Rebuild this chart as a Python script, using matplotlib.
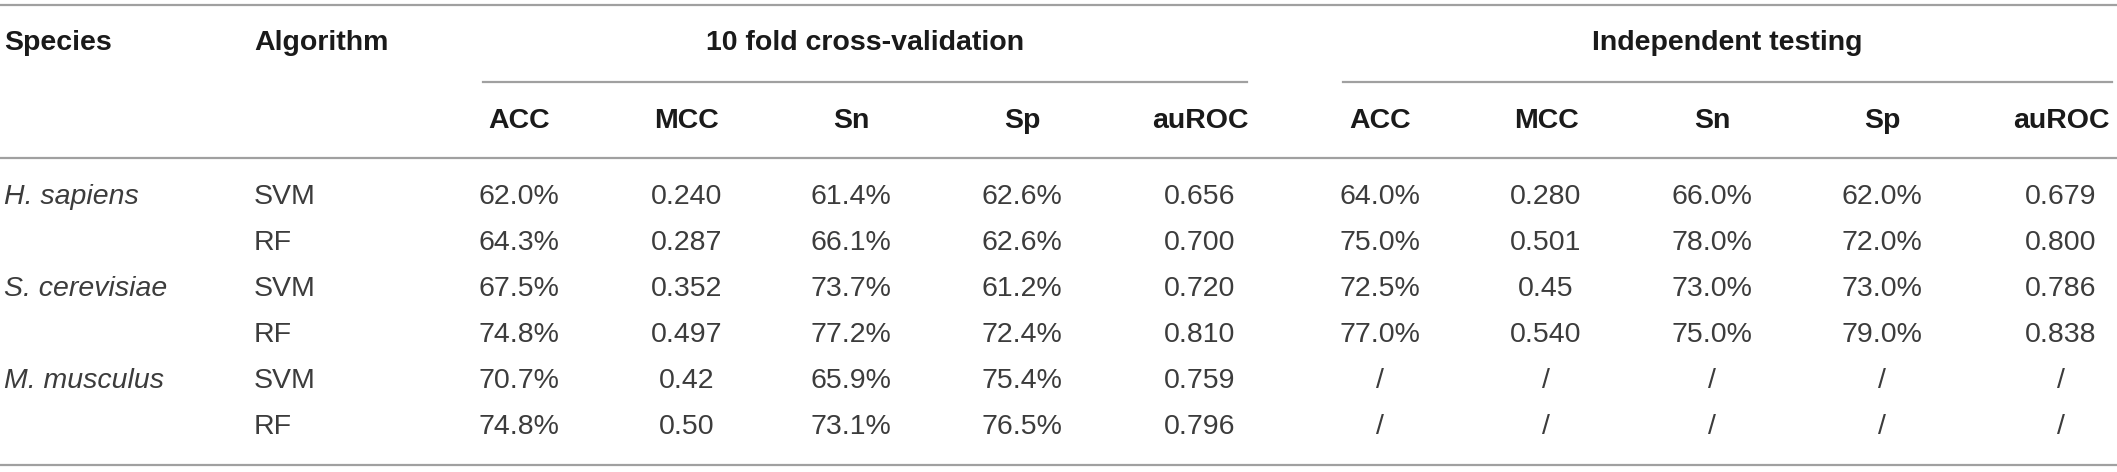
import matplotlib
matplotlib.use("Agg")
import matplotlib.pyplot as plt

# dados da tabela
especies = ["H. sapiens", "", "S. cerevisiae", "", "M. musculus", ""]
algoritmos = ["SVM", "RF", "SVM", "RF", "SVM", "RF"]
metricas = ["ACC", "MCC", "Sn", "Sp", "auROC"]
grupos = ["10 fold cross-validation", "Independent testing"]

cv_acc = ["62.0%", "64.3%", "67.5%", "74.8%", "70.7%", "74.8%"]
cv_mcc = ["0.240", "0.287", "0.352", "0.497", "0.42", "0.50"]
cv_sn = ["61.4%", "66.1%", "73.7%", "77.2%", "65.9%", "73.1%"]
cv_sp = ["62.6%", "62.6%", "61.2%", "72.4%", "75.4%", "76.5%"]
cv_auroc = ["0.656", "0.700", "0.720", "0.810", "0.759", "0.796"]

ind_acc = ["64.0%", "75.0%", "72.5%", "77.0%", "/", "/"]
ind_mcc = ["0.280", "0.501", "0.45", "0.540", "/", "/"]
ind_sn = ["66.0%", "78.0%", "73.0%", "75.0%", "/", "/"]
ind_sp = ["62.0%", "72.0%", "73.0%", "79.0%", "/", "/"]
ind_auroc = ["0.679", "0.800", "0.786", "0.838", "/", "/"]

colunas_cv = [cv_acc, cv_mcc, cv_sn, cv_sp, cv_auroc]
colunas_ind = [ind_acc, ind_mcc, ind_sn, ind_sp, ind_auroc]

W, H = 2117, 472
fig = plt.figure(figsize=(W / 100, H / 100), dpi=100, facecolor="white")
ax = fig.add_axes([0, 0, 1, 1])
ax.set_xlim(0, W)
ax.set_ylim(H, 0)
ax.axis("off")

cor_linha = "#a0a0a0"
cor_texto = "#3c3c3c"
cor_cab = "#1a1a1a"
fs = 20.5
fonte = "Liberation Sans"

# posicoes (pixels)
x_esp, x_alg = 4, 254
x_cv = [519, 687, 851, 1022, 1200]
x_ind = [1380, 1546, 1712, 1882, 2061]
y_grupo, y_metrica = 43, 121
y_linhas = [197 + 46 * i for i in range(len(algoritmos))]

# linhas horizontais
ax.plot([0, W], [5, 5], color=cor_linha, lw=1.6)
ax.plot([483, 1247], [82, 82], color=cor_linha, lw=1.6)
ax.plot([1343, 2112], [82, 82], color=cor_linha, lw=1.6)
ax.plot([0, W], [158, 158], color=cor_linha, lw=1.6)
ax.plot([0, W], [465, 465], color=cor_linha, lw=1.6)

# cabecalhos
kw_cab = dict(fontsize=fs, fontweight="bold", color=cor_cab, family=fonte, va="center")
ax.text(x_esp, y_grupo, "Species", ha="left", **kw_cab)
ax.text(x_alg, y_grupo, "Algorithm", ha="left", **kw_cab)
ax.text((483 + 1247) / 2, y_grupo, grupos[0], ha="center", **kw_cab)
ax.text((1343 + 2112) / 2, y_grupo, grupos[1], ha="center", **kw_cab)
for xs in (x_cv, x_ind):
    for x, m in zip(xs, metricas):
        ax.text(x, y_metrica, m, ha="center", **kw_cab)

# corpo
kw = dict(fontsize=fs, color=cor_texto, family=fonte, va="center")
for i, y in enumerate(y_linhas):
    if especies[i]:
        ax.text(x_esp, y, especies[i], ha="left", style="italic", **kw)
    ax.text(x_alg, y, algoritmos[i], ha="left", **kw)
    for x, col in zip(x_cv, colunas_cv):
        ax.text(x, y, col[i], ha="center", **kw)
    for x, col in zip(x_ind, colunas_ind):
        ax.text(x, y, col[i], ha="center", **kw)

fig.savefig("out.png", dpi=100, facecolor="white")
